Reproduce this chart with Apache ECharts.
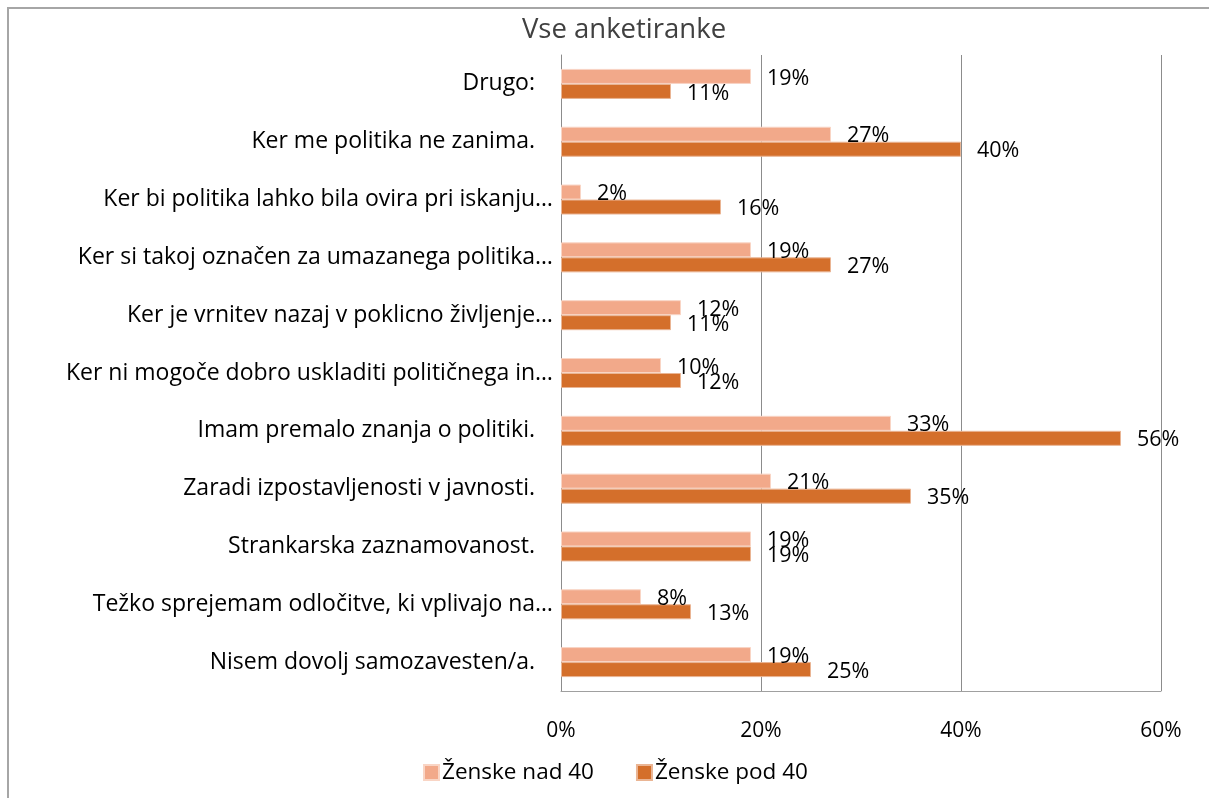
<!DOCTYPE html>
<html>
<head>
<meta charset="utf-8">
<script src="https://cdn.jsdelivr.net/npm/echarts@6/dist/echarts.min.js"></script>
<style>
  html, body { margin: 0; padding: 0; background: #fff; }
  #frame {
    position: absolute; left: 7px; top: 7px; width: 1240px; height: 820px;
    border-left: 2px solid #a6a6a6; border-top: 2px solid #a6a6a6;
  }
  #chart { position: absolute; left: 0; top: 0; width: 1209px; height: 798px; }
</style>
</head>
<body>
<div id="frame"></div>
<div id="chart"></div>
<script>
const categories = [
  'Drugo:',
  'Ker me politika ne zanima.',
  'Ker bi politika lahko bila ovira pri iskanju…',
  'Ker si takoj označen za umazanega politika…',
  'Ker je vrnitev nazaj v poklicno življenje…',
  'Ker ni mogoče dobro uskladiti političnega in…',
  'Imam premalo znanja o politiki.',
  'Zaradi izpostavljenosti v javnosti.',
  'Strankarska zaznamovanost.',
  'Težko sprejemam odločitve, ki vplivajo na…',
  'Nisem dovolj samozavesten/a.'
]
const nad40 = [19, 27, 2, 19, 12, 10, 33, 21, 19, 8, 19]
const pod40 = [11, 40, 16, 27, 11, 12, 56, 35, 19, 13, 25]
const seriesNames = ['Ženske nad 40', 'Ženske pod 40']
const xTicks = [0, 20, 40, 60]

const font = 'Open Sans'
const chart = echarts.init(document.getElementById('chart'))

// oznake vrednosti desno od stolpca
const barLabel = {
  show: true,
  position: 'right',
  distance: 16,
  offset: [0, 2],
  formatter: p => p.value + '%',
  color: '#000',
  fontFamily: font,
  fontSize: 21.5
}

chart.setOption({
  animation: false,
  textStyle: { fontFamily: font },
  title: {
    text: 'Vse anketiranke',
    left: 619,
    top: 11,
    textAlign: 'center',
    textStyle: { fontFamily: font, fontSize: 27.5, fontWeight: 'normal', color: '#404040' }
  },
  legend: {
    left: 418,
    top: 756,
    itemWidth: 15,
    itemHeight: 15,
    itemGap: 42,
    icon: 'rect',
    textStyle: { fontFamily: font, fontSize: 22.5, color: '#000', padding: [0, 0, 0, -2] },
    data: seriesNames
  },
  grid: { left: 561, right: 48, top: 55, bottom: 107, containLabel: false },
  xAxis: {
    type: 'value',
    min: xTicks[0],
    max: xTicks[xTicks.length - 1],
    interval: 20,
    axisLine: { show: true, lineStyle: { color: '#a0a0a0' } },
    axisTick: { show: false },
    axisLabel: { formatter: '{value}%', margin: 30, color: '#000', fontFamily: font, fontSize: 21 },
    splitLine: { show: true, lineStyle: { color: '#8c8c8c', width: 1 } }
  },
  yAxis: {
    type: 'category',
    inverse: true,
    data: categories,
    axisLine: { show: true, lineStyle: { color: '#8c8c8c' } },
    axisTick: { show: false },
    axisLabel: {
      margin: 8,
      color: '#000',
      fontFamily: font,
      fontSize: 23,
      // oznake brez tropičja so v izvirniku nekoliko zamaknjene levo
      formatter: v => v.endsWith('…') ? v : '{p|' + v + '}',
      rich: { p: { padding: [0, 18, 0, 0], fontFamily: font, fontSize: 23, color: '#000' } }
    }
  },
  series: [
    {
      name: seriesNames[0],
      type: 'bar',
      data: nad40,
      barWidth: 15,
      barGap: '0%',
      itemStyle: { color: '#f2a98a', borderColor: '#f9d5c5', borderWidth: 1 },
      label: barLabel
    },
    {
      name: seriesNames[1],
      type: 'bar',
      data: pod40,
      barWidth: 15,
      barGap: '0%',
      itemStyle: { color: '#d46f2b', borderColor: '#eab594', borderWidth: 1 },
      label: barLabel
    }
  ]
})

window.addEventListener('resize', () => chart.resize())
</script>
</body>
</html>
